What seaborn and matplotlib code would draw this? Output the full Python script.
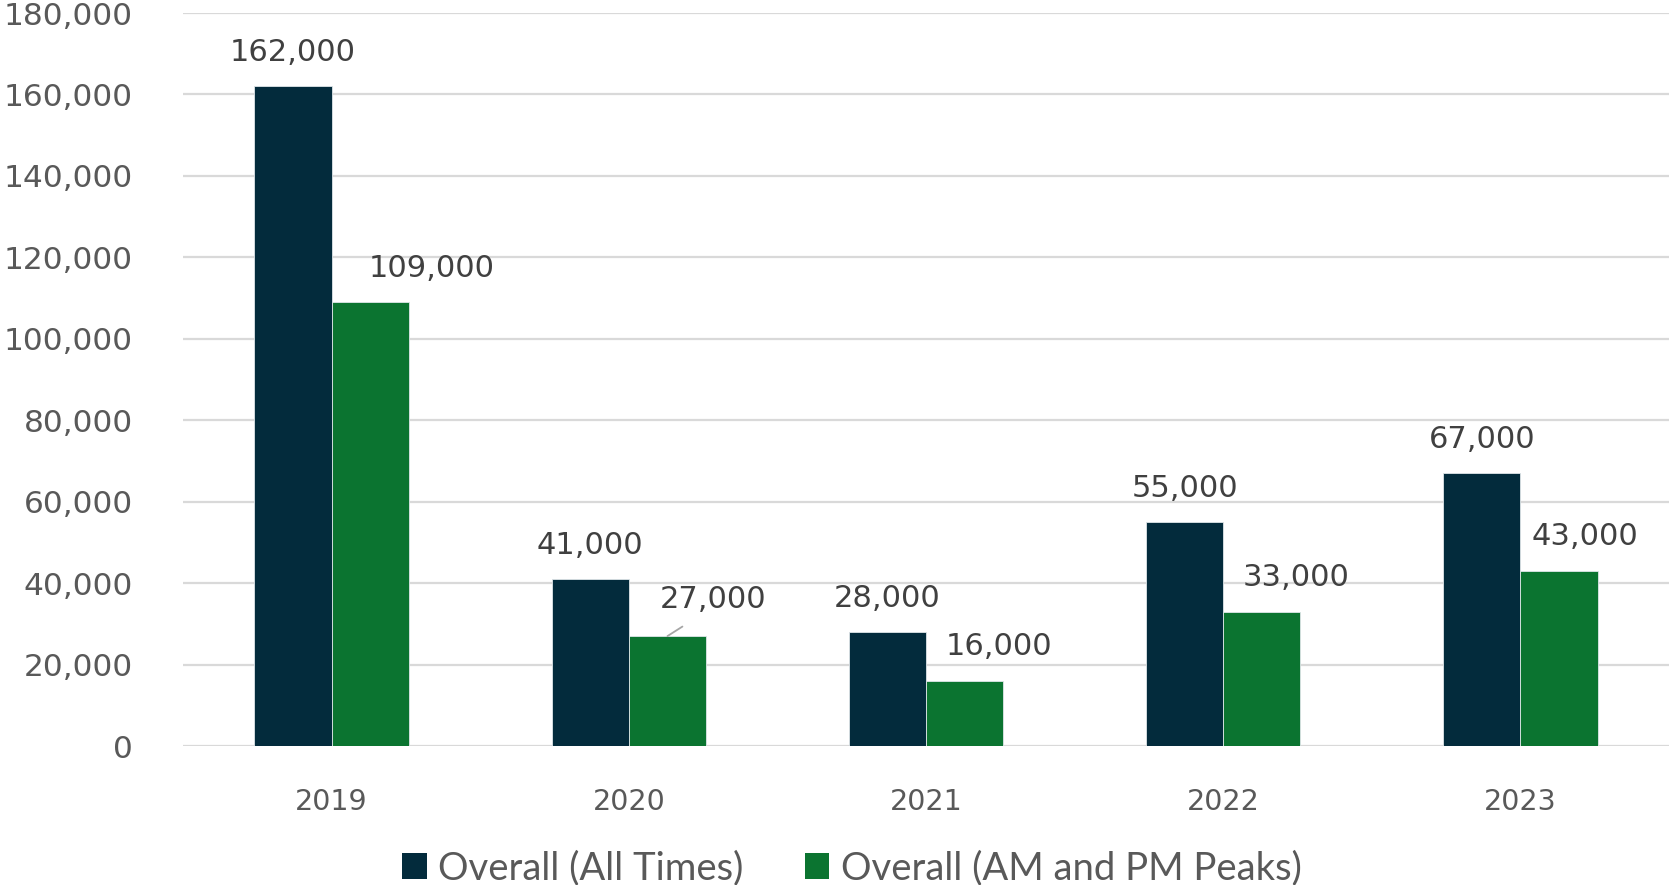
import matplotlib
matplotlib.use("Agg")
import matplotlib.pyplot as plt
import seaborn as sns
import pandas as pd
from matplotlib.patches import Patch

years = ["2019", "2020", "2021", "2022", "2023"]
all_times = [162000, 41000, 28000, 55000, 67000]
peaks = [109000, 27000, 16000, 33000, 43000]
series_names = ["Overall (All Times)", "Overall (AM and PM Peaks)"]
y_ticks = [0, 20000, 40000, 60000, 80000, 100000, 120000, 140000, 160000, 180000]

colors = ["#032B3C", "#0B7430"]

df = pd.DataFrame({
    "year": years * 2,
    "value": all_times + peaks,
    "series": [series_names[0]] * len(years) + [series_names[1]] * len(years),
})

sns.set_theme(style="white")
plt.rcParams["font.family"] = ["DejaVu Sans"]

fig = plt.figure(figsize=(16.7, 8.85), dpi=100)
ax = fig.add_axes([0.1096, 0.157, 0.8898, 0.8283])

sns.barplot(data=df, x="year", y="value", hue="series", order=years,
            hue_order=series_names, palette=colors, width=0.52, gap=0,
            edgecolor="#dfe6e9", linewidth=0.6, saturation=1, ax=ax,
            legend=False, zorder=3)

ax.set_ylim(0, 180000)
ax.set_xlim(-0.5, len(years) - 0.5)
ax.set_yticks(y_ticks)
ax.set_yticklabels([f"{v:,}" for v in y_ticks])
ax.yaxis.grid(True, color="#d9d9d9", linewidth=1.6, zorder=0)
ax.xaxis.grid(False)
for s in ax.spines.values():
    s.set_visible(False)
ax.tick_params(axis="y", length=0, pad=36, labelsize=22.5, labelcolor="#595959")
ax.tick_params(axis="x", length=0, pad=30, labelsize=20.5, labelcolor="#595959")
ax.set_xlabel("")
ax.set_ylabel("")

# value labels: dark bars centred, green bars nudged right
green_shift_px = [61, 46, 34, 34, 26]
label_kw = dict(ha="center", va="center", fontsize=22, color="#404040",
                textcoords="offset pixels", zorder=5)
for bar, v in zip(ax.containers[0], all_times):
    cx = bar.get_x() + bar.get_width() / 2
    ax.annotate(f"{v:,}", (cx, v), xytext=(0, 34), **label_kw)
for i, (bar, v) in enumerate(zip(ax.containers[1], peaks)):
    cx = bar.get_x() + bar.get_width() / 2
    if years[i] == "2020":
        ax.annotate(f"{v:,}", (cx, v), xytext=(green_shift_px[i], 37),
                    arrowprops=dict(arrowstyle="-", color="#a6a6a6", lw=1.3,
                                    shrinkA=13, shrinkB=0,
                                    relpos=(0.4, 0)),
                    **label_kw)
    else:
        ax.annotate(f"{v:,}", (cx, v), xytext=(green_shift_px[i], 34), **label_kw)

handles = [Patch(facecolor=c, edgecolor="none") for c in colors]
fig.legend(handles, series_names, loc="center", bbox_to_anchor=(0.51, 0.019),
           ncol=2, frameon=False, handlelength=0.65, handleheight=0.65,
           handletextpad=0.3, columnspacing=1.6,
           prop={"family": "Lato", "size": 27.5}, labelcolor="#595959")

fig.savefig("out.png", dpi=100, facecolor="white")
